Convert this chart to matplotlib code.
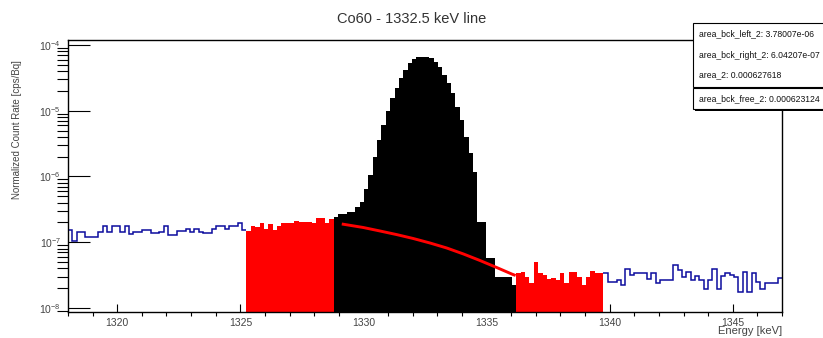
import numpy as np
import matplotlib
matplotlib.use('Agg')
import matplotlib.pyplot as plt
from matplotlib.patches import Rectangle
from matplotlib.ticker import MultipleLocator, LogLocator, NullFormatter

plt.rcParams['font.family'] = ['Liberation Sans', 'DejaVu Sans']

# normalized count rate per bin [cps/Bq], split into the fit regions
out_left = [1.55e-7, 1.06e-7, 1.45e-7, 1.45e-7, 1.19e-7, 1.19e-7, 1.22e-7, 1.45e-7,
            1.75e-7, 1.45e-7, 1.75e-7, 1.75e-7, 1.45e-7, 1.77e-7, 1.35e-7, 1.45e-7,
            1.45e-7, 1.55e-7, 1.55e-7, 1.40e-7, 1.40e-7, 1.45e-7, 1.75e-7, 1.30e-7,
            1.30e-7, 1.50e-7, 1.50e-7, 1.60e-7, 1.45e-7, 1.60e-7, 1.42e-7, 1.37e-7,
            1.37e-7, 1.57e-7, 1.75e-7, 1.75e-7, 1.57e-7, 1.75e-7, 1.75e-7, 1.94e-7,
            1.55e-7]
bck_left = [1.48e-7, 1.77e-7, 1.72e-7, 1.94e-7, 1.60e-7, 1.89e-7, 1.53e-7, 1.77e-7,
            1.98e-7, 1.98e-7, 1.98e-7, 2.13e-7, 2.04e-7, 2.04e-7, 2.00e-7, 1.98e-7,
            2.32e-7, 2.37e-7, 1.98e-7, 2.24e-7]
peak = [2.39e-7, 2.67e-7, 2.67e-7, 2.90e-7, 2.90e-7, 3.40e-7, 4.10e-7, 6.40e-7,
        1.05e-6, 2.00e-6, 3.59e-6, 6.07e-6, 1.00e-5, 1.55e-5, 2.19e-5, 3.11e-5,
        4.17e-5, 5.26e-5, 6.12e-5, 6.50e-5, 6.52e-5, 6.45e-5, 6.27e-5, 5.57e-5,
        4.68e-5, 3.50e-5, 2.61e-5, 1.84e-5, 1.15e-5, 7.23e-6, 4.03e-6, 2.25e-6,
        1.18e-6, 2.06e-7, 2.06e-7, 5.70e-8, 5.70e-8, 3.00e-8, 3.00e-8, 3.00e-8,
        3.00e-8, 2.24e-8]
bck_right = [3.37e-8, 3.56e-8, 2.99e-8, 2.37e-8, 5.06e-8, 3.37e-8, 3.18e-8, 2.75e-8,
             2.83e-8, 2.67e-8, 3.44e-8, 2.37e-8, 3.56e-8, 3.56e-8, 2.99e-8, 2.24e-8,
             2.99e-8, 3.69e-8, 3.44e-8, 3.44e-8]
out_right = [3.37e-8, 2.51e-8, 2.51e-8, 2.67e-8, 2.24e-8, 3.87e-8, 3.18e-8, 3.37e-8,
             3.37e-8, 3.37e-8, 2.73e-8, 3.37e-8, 2.37e-8, 2.67e-8, 2.67e-8, 2.67e-8,
             4.51e-8, 3.78e-8, 2.93e-8, 3.56e-8, 2.67e-8, 3.07e-8, 2.67e-8, 1.92e-8,
             2.67e-8, 3.87e-8, 1.92e-8, 3.07e-8, 3.37e-8, 3.18e-8, 3.00e-8, 1.77e-8,
             3.56e-8, 1.77e-8, 3.37e-8, 2.51e-8, 1.92e-8, 2.37e-8, 2.37e-8, 2.37e-8,
             2.83e-8]

e_min, e_max = 1318.0, 1347.0

# background under the peak from the fit
fit_energy = [1329.12, 1329.99, 1330.67, 1331.35, 1332.02, 1332.70,
              1333.38, 1334.06, 1334.73, 1335.41, 1336.02, 1336.18]
fit_rate = [1.895e-7, 1.676e-7, 1.483e-7, 1.307e-7, 1.140e-7, 9.74e-8,
            8.18e-8, 6.63e-8, 5.28e-8, 4.13e-8, 3.29e-8, 3.12e-8]

stats_names = ['area_bck_left_2', 'area_bck_right_2', 'area_2', 'area_bck_free_2']
stats_values = ['3.78007e-06', '6.04207e-07', '0.000627618', '0.000623124']

counts = np.array(out_left + bck_left + peak + bck_right + out_right)
edges = np.linspace(e_min, e_max, len(counts) + 1)
i1 = len(out_left)
i2 = i1 + len(bck_left)
i3 = i2 + len(peak)
i4 = i3 + len(bck_right)

W, H = 823, 338
fig = plt.figure(figsize=(W / 100, H / 100), dpi=100)
ax = fig.add_axes([68 / W, 1 - 312 / H, (782 - 68) / W, (312 - 40) / H])

# outside regions as outline, fit regions filled
blue = '#0c0c9e'
ax.stairs(counts[:i1], edges[:i1 + 1], baseline=None, color=blue, lw=1.1, zorder=1)
ax.stairs(counts[i4:], edges[i4:], baseline=None, color=blue, lw=1.1, zorder=1)
ax.plot([edges[i4], edges[i4]], [counts[i4 - 1], counts[i4]], color=blue, lw=1.1, zorder=1)
ax.stairs(counts[i1:i2], edges[i1:i2 + 1], fill=True, color='#ff0000', baseline=1e-10, zorder=2)
ax.stairs(counts[i2:i3], edges[i2:i3 + 1], fill=True, color='black', baseline=1e-10, zorder=2)
ax.stairs(counts[i3:i4], edges[i3:i4 + 1], fill=True, color='#ff0000', baseline=1e-10, zorder=2)
ax.plot(fit_energy, fit_rate, color='#ff0000', lw=2.1, zorder=3, solid_capstyle='butt',
        solid_joinstyle='round')

ax.set_yscale('log')
ax.set_xlim(e_min, e_max)
ax.set_ylim(8.69e-9, 1.19e-4)

ax.xaxis.set_major_locator(MultipleLocator(5))
ax.xaxis.set_minor_locator(MultipleLocator(1))
ax.yaxis.set_minor_locator(LogLocator(base=10, subs=np.arange(2, 10)))
ax.yaxis.set_minor_formatter(NullFormatter())
ax.tick_params(direction='in', top=False, right=False, colors='black',
               labelcolor='#444444', labelsize=7.5)
ax.tick_params(axis='x', which='major', length=6, width=0.8, pad=4)
ax.tick_params(axis='x', which='minor', length=3, width=0.8)
ax.tick_params(axis='y', which='major', length=16, width=0.8, pad=5, labelsize=7.5)
ax.tick_params(axis='y', which='minor', length=8, width=0.8)
for s in ax.spines.values():
    s.set_linewidth(1.0)

fig.text(0.5, 1 - 19 / H, 'Co60 - 1332.5 keV line', ha='center', va='center',
         fontsize=10.5, color='#333333')
fig.text(17 / W, 1 - 60 / H, 'Normalized Count Rate [cps/Bq]', rotation=90,
         ha='center', va='top', fontsize=7, color='#444444')
fig.text(782 / W, 1 - 331 / H, 'Energy [keV]', ha='right', va='center',
         fontsize=8, color='#444444')


# stats boxes (they run past the right edge of the canvas)
def box(x0, y0, x1, y1):
    fig.patches.append(Rectangle((x0 / W + 2 / W, 1 - (y1 + 2) / H), (x1 - x0) / W, (y1 - y0) / H,
                                 transform=fig.transFigure, facecolor='black',
                                 edgecolor='none', zorder=5))
    fig.patches.append(Rectangle((x0 / W, 1 - y1 / H), (x1 - x0) / W, (y1 - y0) / H,
                                 transform=fig.transFigure, facecolor='white',
                                 edgecolor='black', lw=0.8, zorder=6))


box(693, 23, 840, 87)
box(693, 88.5, 840, 109)
rows_y = [34, 55, 75, 99]
for name, val, y in zip(stats_names, stats_values, rows_y):
    fig.text(699 / W, 1 - y / H, f'{name}: {val}', ha='left', va='center',
             fontsize=6.2, color='#111111', zorder=7)

fig.savefig('out.png', dpi=100)
